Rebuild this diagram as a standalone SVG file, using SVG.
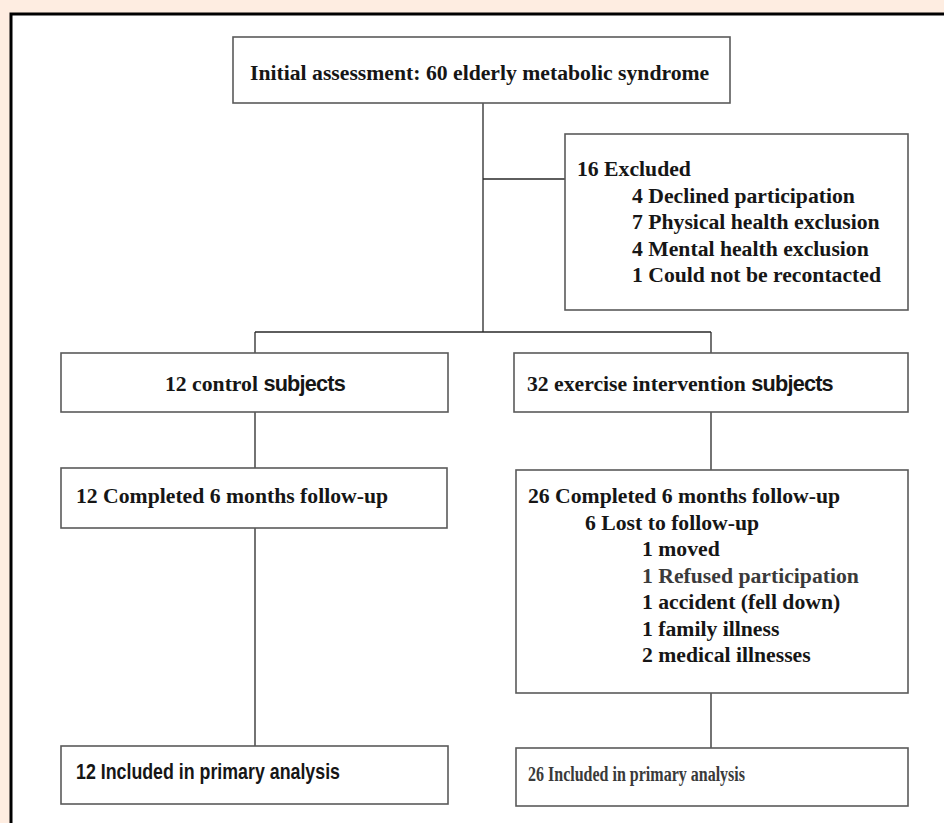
<svg xmlns="http://www.w3.org/2000/svg" width="944" height="823" viewBox="0 0 944 823">
<style>
.box{fill:#fff;stroke:#5a5a5a;stroke-width:1.6}
.t{font-family:"Liberation Serif","Times New Roman",serif;font-weight:bold;font-size:21.7px;fill:#161616}
.s{font-family:"Liberation Sans",Arial,sans-serif;font-weight:bold}
.g{fill:#3a3a3a}
.c{fill:none;stroke:#2a2a2a;stroke-width:1.3}
</style>
<rect x="0" y="0" width="944" height="823" fill="#FEEDE1"/>
<rect x="11" y="14" width="1000" height="1000" fill="#fff" stroke="#000" stroke-width="3"/>
<g id="connectors">
<path class="c" d="M483,103 V332 M483,179 H565 M255,332 H711 M255,332 V353 M711,332 V353 M255,412 V468 M711,412 V470 M255,528 V746 M711,693 V748"/>
</g>
<g id="n-initial">
<rect class="box" x="233" y="37" width="497" height="66"/>
<text class="t" x="250" y="80" font-size="22">Initial assessment: 60 elderly metabolic syndrome</text>
</g>
<g id="n-excluded">
<rect class="box" x="565" y="134" width="343" height="176"/>
<text class="t" x="577" y="176">16 Excluded</text>
<text class="t" x="632" y="202.5">4 Declined participation</text>
<text class="t" x="632" y="229">7 Physical health exclusion</text>
<text class="t" x="632" y="255.5">4 Mental health exclusion</text>
<text class="t" x="632" y="282">1 Could not be recontacted</text>
</g>
<g id="n-control">
<rect class="box" x="61" y="353" width="387" height="59"/>
<text class="t" x="165" y="391">12 control <tspan class="s" letter-spacing="-0.8">subjects</tspan></text>
</g>
<g id="n-exercise">
<rect class="box" x="514" y="353" width="394" height="59"/>
<text class="t" x="527" y="391">32 exercise intervention <tspan class="s" letter-spacing="-0.8">subjects</tspan></text>
</g>
<g id="n-control-fu">
<rect class="box" x="61" y="468" width="386" height="60"/>
<text class="t" x="76" y="503">12 Completed 6 months follow-up</text>
</g>
<g id="n-exercise-fu">
<rect class="box" x="516" y="470" width="392" height="223"/>
<text class="t" x="528" y="503">26 Completed 6 months follow-up</text>
<text class="t" x="585" y="529.5">6 Lost to follow-up</text>
<text class="t" x="642" y="556">1 moved</text>
<text class="t g" x="642" y="582.5">1 Refused participation</text>
<text class="t" x="642" y="609">1 accident (fell down)</text>
<text class="t" x="642" y="635.5">1 family illness</text>
<text class="t" x="642" y="662">2 medical illnesses</text>
</g>
<g id="n-control-incl">
<rect class="box" x="61" y="746" width="387" height="58"/>
<text class="t s" x="76" y="779" textLength="264" lengthAdjust="spacingAndGlyphs">12 Included in primary analysis</text>
</g>
<g id="n-exercise-incl">
<rect class="box" x="516" y="748" width="392" height="58"/>
<text class="t g" x="528" y="781" textLength="217" lengthAdjust="spacingAndGlyphs">26 Included in primary analysis</text>
</g>
</svg>
